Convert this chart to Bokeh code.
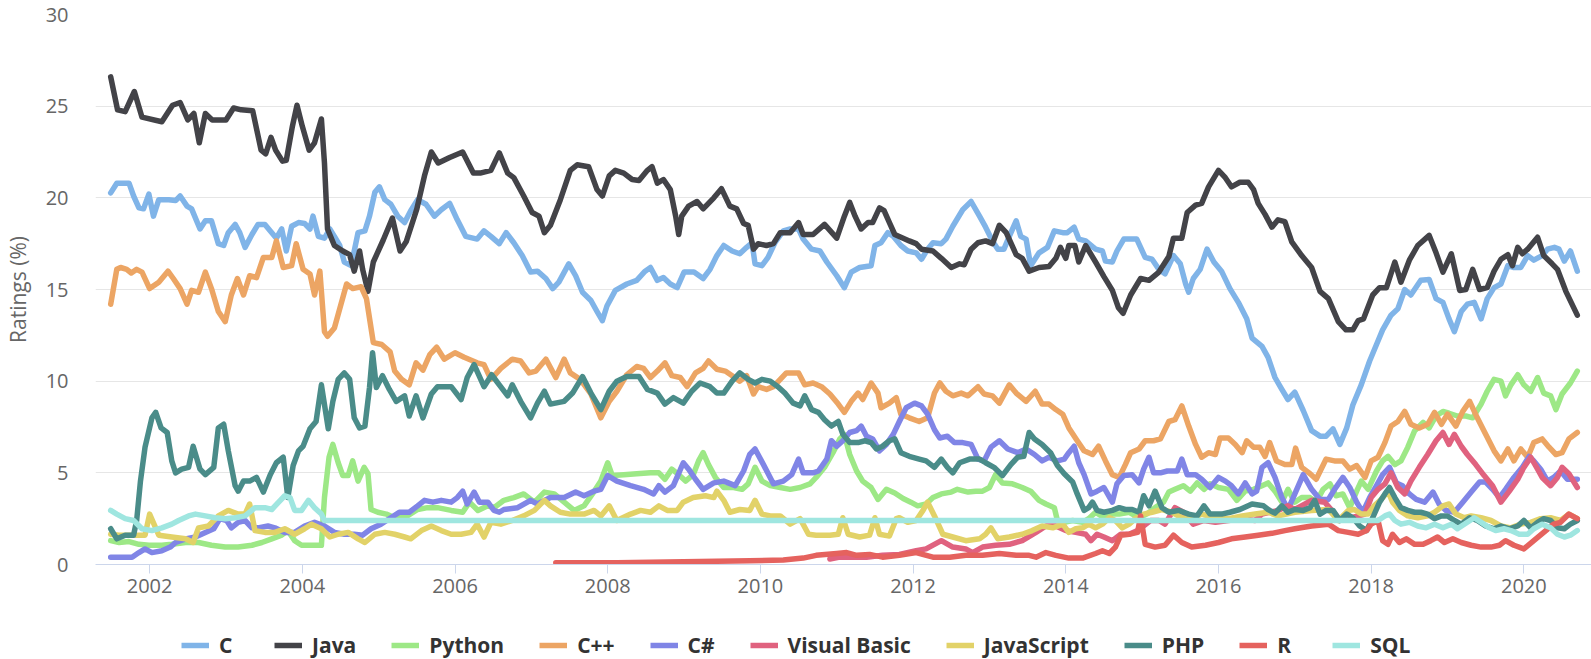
from bokeh.plotting import figure
from bokeh.models import Range1d, FixedTicker, Legend, LegendItem
from bokeh.layouts import column
from bokeh.embed import file_html
from bokeh.resources import INLINE

SERIES_NAMES = ["C", "Java", "Python", "C++", "C#", "Visual Basic", "JavaScript", "PHP", "R", "SQL"]
SERIES_COLORS = ["#80b4e8", "#434348", "#9de886", "#eca564", "#8085e6",
                 "#e0627f", "#e2d268", "#4a8c89", "#e5625e", "#9fe6e0"]

X_TICKS = [2002, 2004, 2006, 2008, 2010, 2012, 2014, 2016, 2018, 2020]
Y_TICKS = [0, 5, 10, 15, 20, 25, 30]

# (year, rating %) pairs
C_DATA = [
    (2001.49, 20.27), (2001.57, 20.8), (2001.73, 20.8), (2001.79, 20.1), (2001.86, 19.45), (2001.92, 19.4),
    (2001.99, 20.2), (2002.05, 19.0), (2002.12, 19.9), (2002.25, 19.9), (2002.34, 19.85), (2002.4, 20.1),
    (2002.49, 19.55), (2002.55, 19.4), (2002.66, 18.3), (2002.73, 18.75), (2002.81, 18.75), (2002.9, 17.5),
    (2002.97, 17.4), (2003.03, 18.1), (2003.12, 18.55), (2003.18, 18.1), (2003.25, 17.3), (2003.34, 18.0),
    (2003.42, 18.55), (2003.51, 18.55), (2003.6, 18.1), (2003.66, 17.8), (2003.73, 18.3), (2003.79, 17.1),
    (2003.86, 18.45), (2003.95, 18.65), (2004.03, 18.6), (2004.1, 18.3), (2004.14, 19.0), (2004.21, 17.9),
    (2004.29, 17.8), (2004.36, 18.3), (2004.42, 17.9), (2004.49, 17.4), (2004.55, 16.5), (2004.64, 16.3),
    (2004.73, 18.1), (2004.82, 18.2), (2004.88, 19.0), (2004.95, 20.3), (2005.01, 20.6), (2005.08, 19.9),
    (2005.16, 19.65), (2005.25, 19.0), (2005.34, 18.65), (2005.42, 19.3), (2005.51, 19.9), (2005.62, 19.65),
    (2005.73, 19.0), (2005.82, 19.35), (2005.93, 19.7), (2006.03, 18.8), (2006.14, 17.9), (2006.29, 17.75),
    (2006.38, 18.2), (2006.47, 17.9), (2006.58, 17.5), (2006.67, 18.1), (2006.77, 17.55), (2006.88, 16.85),
    (2006.99, 15.95), (2007.08, 16.0), (2007.19, 15.6), (2007.28, 15.05), (2007.36, 15.4), (2007.49, 16.4),
    (2007.58, 15.75), (2007.67, 14.85), (2007.78, 14.4), (2007.86, 13.8), (2007.93, 13.3), (2007.99, 14.1),
    (2008.1, 14.95), (2008.25, 15.3), (2008.38, 15.5), (2008.49, 16.0), (2008.56, 16.2), (2008.65, 15.5),
    (2008.73, 15.65), (2008.82, 15.3), (2008.91, 15.1), (2009.0, 15.95), (2009.13, 15.95), (2009.25, 15.6),
    (2009.34, 16.1), (2009.43, 16.85), (2009.52, 17.4), (2009.63, 17.1), (2009.73, 16.95), (2009.82, 17.3),
    (2009.89, 17.55), (2009.93, 16.4), (2010.02, 16.3), (2010.1, 16.75), (2010.19, 17.55), (2010.3, 18.2),
    (2010.39, 18.3), (2010.5, 18.3), (2010.56, 17.75), (2010.67, 17.2), (2010.78, 17.1), (2010.87, 16.5),
    (2011.0, 15.75), (2011.1, 15.1), (2011.19, 15.95), (2011.3, 16.2), (2011.45, 16.3), (2011.5, 17.4),
    (2011.58, 17.55), (2011.67, 18.1), (2011.74, 17.9), (2011.84, 17.4), (2011.93, 17.1), (2012.04, 17.0),
    (2012.11, 16.65), (2012.19, 17.2), (2012.26, 17.55), (2012.37, 17.5), (2012.43, 17.75), (2012.52, 18.45),
    (2012.65, 19.35), (2012.76, 19.8), (2012.87, 19.0), (2012.95, 18.4), (2013.04, 17.65), (2013.11, 17.2),
    (2013.19, 17.2), (2013.26, 17.9), (2013.35, 18.75), (2013.41, 17.9), (2013.48, 17.75), (2013.54, 16.3),
    (2013.65, 17.0), (2013.76, 17.3), (2013.85, 18.2), (2013.96, 18.1), (2014.02, 18.1), (2014.11, 18.4),
    (2014.17, 17.75), (2014.26, 17.65), (2014.39, 17.2), (2014.48, 17.1), (2014.52, 16.55), (2014.61, 16.5),
    (2014.67, 17.1), (2014.76, 17.75), (2014.85, 17.75), (2014.93, 17.75), (2015.04, 16.75), (2015.13, 16.65),
    (2015.22, 16.1), (2015.3, 15.85), (2015.41, 16.85), (2015.5, 16.4), (2015.57, 15.3), (2015.61, 14.85),
    (2015.67, 15.6), (2015.76, 16.1), (2015.85, 17.2), (2015.94, 16.5), (2016.04, 16.0), (2016.15, 15.05),
    (2016.26, 14.3), (2016.37, 13.4), (2016.44, 12.35), (2016.57, 11.9), (2016.65, 11.3), (2016.74, 10.2),
    (2016.83, 9.55), (2016.91, 9.0), (2017.0, 9.4), (2017.11, 8.4), (2017.22, 7.3), (2017.33, 7.0),
    (2017.41, 7.0), (2017.5, 7.4), (2017.59, 6.55), (2017.68, 7.45), (2017.76, 8.7), (2017.87, 9.8),
    (2017.98, 11.1), (2018.07, 12.0), (2018.15, 12.8), (2018.26, 13.6), (2018.35, 13.95), (2018.44, 15.0),
    (2018.52, 14.7), (2018.65, 15.5), (2018.76, 15.55), (2018.85, 14.5), (2018.94, 14.3), (2019.02, 13.4),
    (2019.09, 12.7), (2019.18, 13.8), (2019.26, 14.2), (2019.35, 14.3), (2019.44, 13.4), (2019.52, 14.5),
    (2019.61, 15.1), (2019.7, 15.3), (2019.79, 16.3), (2019.87, 16.2), (2019.96, 16.2), (2020.05, 16.85),
    (2020.13, 16.6), (2020.24, 16.85), (2020.31, 17.2), (2020.4, 17.3), (2020.46, 17.2), (2020.53, 16.55),
    (2020.61, 17.1), (2020.7, 16.0),
]

JAVA_DATA = [
    (2001.49, 26.6), (2001.58, 24.8), (2001.68, 24.7), (2001.8, 25.8), (2001.9, 24.4), (2002.16, 24.15),
    (2002.3, 25.05), (2002.4, 25.2), (2002.5, 24.25), (2002.58, 24.6), (2002.65, 23.0), (2002.73, 24.6),
    (2002.82, 24.25), (2003.0, 24.25), (2003.1, 24.9), (2003.2, 24.8), (2003.35, 24.75), (2003.46, 22.6),
    (2003.52, 22.4), (2003.59, 23.3), (2003.65, 22.6), (2003.74, 22.0), (2003.79, 22.05), (2003.87, 23.9),
    (2003.93, 25.05), (2004.0, 23.9), (2004.09, 22.6), (2004.16, 23.0), (2004.25, 24.3), (2004.29, 21.9),
    (2004.33, 18.3), (2004.42, 17.4), (2004.53, 17.1), (2004.62, 16.9), (2004.68, 16.0), (2004.75, 17.1),
    (2004.79, 16.1), (2004.86, 14.9), (2004.93, 16.5), (2005.06, 17.7), (2005.18, 18.9), (2005.28, 17.1),
    (2005.36, 17.6), (2005.5, 19.4), (2005.6, 21.2), (2005.69, 22.5), (2005.78, 21.9), (2005.93, 22.2),
    (2006.1, 22.5), (2006.24, 21.35), (2006.33, 21.35), (2006.47, 21.5), (2006.58, 22.45), (2006.69, 21.35),
    (2006.77, 21.1), (2006.9, 20.1), (2007.01, 19.2), (2007.1, 19.0), (2007.17, 18.1), (2007.25, 18.5),
    (2007.38, 19.9), (2007.51, 21.5), (2007.6, 21.8), (2007.75, 21.7), (2007.86, 20.45), (2007.93, 20.1),
    (2008.02, 21.2), (2008.1, 21.5), (2008.21, 21.35), (2008.32, 21.0), (2008.41, 20.95), (2008.52, 21.5),
    (2008.58, 21.7), (2008.65, 20.8), (2008.73, 21.0), (2008.82, 20.45), (2008.89, 19.0), (2008.93, 18.0),
    (2008.97, 19.0), (2009.06, 19.55), (2009.17, 19.8), (2009.25, 19.4), (2009.39, 20.0), (2009.49, 20.5),
    (2009.6, 19.55), (2009.69, 19.4), (2009.78, 18.6), (2009.84, 18.5), (2009.91, 17.2), (2009.97, 17.5),
    (2010.08, 17.4), (2010.17, 17.5), (2010.26, 18.1), (2010.39, 18.1), (2010.5, 18.65), (2010.56, 18.0),
    (2010.69, 18.0), (2010.84, 18.55), (2011.0, 17.8), (2011.1, 19.0), (2011.17, 19.75), (2011.24, 19.0),
    (2011.32, 18.3), (2011.41, 18.65), (2011.47, 18.65), (2011.56, 19.45), (2011.62, 19.3), (2011.69, 18.65),
    (2011.76, 18.0), (2011.87, 17.8), (2011.95, 17.65), (2012.04, 17.5), (2012.11, 17.2), (2012.26, 17.1),
    (2012.37, 16.7), (2012.5, 16.2), (2012.61, 16.4), (2012.67, 16.35), (2012.76, 17.2), (2012.85, 17.55),
    (2012.95, 17.65), (2013.04, 17.5), (2013.13, 18.5), (2013.22, 18.1), (2013.35, 16.9), (2013.43, 16.7),
    (2013.52, 16.0), (2013.65, 16.2), (2013.78, 16.25), (2013.87, 16.7), (2013.93, 17.3), (2014.0, 16.7),
    (2014.04, 17.4), (2014.12, 17.4), (2014.17, 16.5), (2014.26, 17.4), (2014.39, 16.5), (2014.5, 15.7),
    (2014.61, 14.95), (2014.69, 14.0), (2014.75, 13.7), (2014.85, 14.7), (2014.98, 15.6), (2015.09, 15.5),
    (2015.22, 15.95), (2015.35, 16.8), (2015.41, 17.8), (2015.52, 17.8), (2015.59, 19.2), (2015.7, 19.6),
    (2015.78, 19.7), (2015.87, 20.6), (2016.0, 21.5), (2016.09, 21.1), (2016.17, 20.6), (2016.28, 20.85),
    (2016.39, 20.85), (2016.46, 20.45), (2016.52, 19.7), (2016.61, 19.1), (2016.7, 18.4), (2016.78, 18.8),
    (2016.87, 18.7), (2016.96, 17.6), (2017.09, 16.85), (2017.22, 16.2), (2017.33, 14.9), (2017.44, 14.5),
    (2017.57, 13.25), (2017.67, 12.8), (2017.76, 12.8), (2017.83, 13.3), (2017.9, 13.4), (2018.02, 14.7),
    (2018.11, 15.1), (2018.2, 15.1), (2018.31, 16.5), (2018.39, 15.4), (2018.5, 16.6), (2018.61, 17.4),
    (2018.76, 17.95), (2018.85, 17.0), (2018.94, 15.95), (2019.05, 16.95), (2019.16, 14.95), (2019.24, 15.0),
    (2019.33, 16.1), (2019.42, 15.0), (2019.52, 15.1), (2019.61, 16.0), (2019.7, 16.65), (2019.79, 16.9),
    (2019.85, 16.3), (2019.92, 17.3), (2019.98, 16.95), (2020.05, 17.2), (2020.18, 17.85), (2020.26, 16.85),
    (2020.37, 16.4), (2020.44, 16.1), (2020.55, 14.9), (2020.7, 13.6),
]

PYTHON_DATA = [
    (2001.49, 1.3), (2001.6, 1.2), (2001.73, 1.25), (2001.86, 1.1), (2001.99, 1.05), (2002.16, 1.05),
    (2002.29, 1.1), (2002.47, 1.2), (2002.64, 1.2), (2002.81, 1.05), (2002.99, 0.95), (2003.16, 0.95),
    (2003.34, 1.05), (2003.47, 1.2), (2003.6, 1.4), (2003.73, 1.6), (2003.81, 1.85), (2003.9, 1.3),
    (2003.99, 1.05), (2004.12, 1.05), (2004.25, 1.05), (2004.29, 3.65), (2004.35, 5.85), (2004.4, 6.55),
    (2004.47, 5.55), (2004.53, 4.85), (2004.6, 4.85), (2004.66, 5.65), (2004.73, 4.55), (2004.81, 5.3),
    (2004.86, 4.95), (2004.9, 3.0), (2004.99, 2.85), (2005.1, 2.75), (2005.21, 2.55), (2005.34, 2.55),
    (2005.51, 3.0), (2005.64, 3.1), (2005.77, 3.1), (2005.95, 2.95), (2006.1, 2.85), (2006.19, 3.4),
    (2006.3, 2.95), (2006.43, 3.2), (2006.51, 3.1), (2006.64, 3.5), (2006.77, 3.65), (2006.9, 3.85),
    (2007.04, 3.4), (2007.17, 3.95), (2007.3, 3.85), (2007.43, 3.4), (2007.56, 2.95), (2007.69, 3.2),
    (2007.8, 3.85), (2007.91, 4.55), (2008.0, 5.55), (2008.06, 4.85), (2008.21, 4.9), (2008.38, 4.95),
    (2008.56, 5.0), (2008.67, 5.0), (2008.75, 4.65), (2008.84, 5.2), (2008.93, 4.9), (2009.02, 4.55),
    (2009.12, 4.9), (2009.19, 5.65), (2009.25, 6.1), (2009.32, 5.45), (2009.41, 4.75), (2009.52, 4.2),
    (2009.65, 4.2), (2009.76, 4.1), (2009.84, 4.4), (2009.93, 5.3), (2010.02, 4.55), (2010.13, 4.3),
    (2010.26, 4.2), (2010.39, 4.1), (2010.52, 4.2), (2010.65, 4.4), (2010.73, 4.75), (2010.84, 5.3),
    (2010.95, 6.1), (2011.04, 6.85), (2011.1, 7.1), (2011.17, 6.0), (2011.26, 5.1), (2011.34, 4.55),
    (2011.45, 4.2), (2011.54, 3.55), (2011.65, 4.1), (2011.76, 3.9), (2011.87, 3.6), (2011.97, 3.4),
    (2012.06, 3.2), (2012.17, 3.3), (2012.26, 3.65), (2012.37, 3.85), (2012.5, 3.95), (2012.58, 4.1),
    (2012.72, 3.95), (2012.82, 4.0), (2012.91, 4.0), (2013.0, 4.2), (2013.08, 4.9), (2013.17, 4.45),
    (2013.3, 4.4), (2013.43, 4.2), (2013.54, 4.0), (2013.65, 3.5), (2013.74, 3.3), (2013.85, 3.1),
    (2013.89, 2.4), (2013.98, 2.3), (2014.09, 2.4), (2014.22, 2.3), (2014.3, 2.5), (2014.39, 2.85),
    (2014.5, 2.55), (2014.61, 2.75), (2014.7, 2.75), (2014.83, 2.85), (2014.96, 2.55), (2015.06, 2.75),
    (2015.17, 3.1), (2015.28, 3.4), (2015.35, 3.95), (2015.43, 4.1), (2015.54, 4.3), (2015.63, 4.0),
    (2015.72, 4.45), (2015.81, 4.1), (2015.89, 4.4), (2016.0, 4.2), (2016.13, 4.1), (2016.24, 3.5),
    (2016.35, 4.0), (2016.46, 4.1), (2016.57, 4.3), (2016.65, 4.45), (2016.74, 4.0), (2016.83, 3.4),
    (2016.91, 4.1), (2017.0, 3.4), (2017.09, 3.65), (2017.2, 3.65), (2017.28, 3.4), (2017.37, 4.1),
    (2017.46, 4.4), (2017.54, 3.75), (2017.63, 3.85), (2017.72, 3.1), (2017.81, 4.0), (2017.87, 4.55),
    (2017.96, 4.1), (2018.07, 5.1), (2018.15, 5.65), (2018.22, 5.9), (2018.31, 5.45), (2018.39, 5.65),
    (2018.48, 6.4), (2018.57, 7.3), (2018.68, 7.75), (2018.76, 7.45), (2018.85, 8.1), (2018.94, 8.35),
    (2019.02, 8.25), (2019.13, 8.1), (2019.24, 8.1), (2019.33, 8.0), (2019.44, 8.75), (2019.52, 9.45),
    (2019.61, 10.1), (2019.7, 10.0), (2019.76, 9.2), (2019.83, 9.8), (2019.92, 10.35), (2020.0, 9.8),
    (2020.09, 9.45), (2020.18, 10.2), (2020.26, 9.35), (2020.35, 9.2), (2020.42, 8.45), (2020.5, 9.3),
    (2020.61, 9.9), (2020.7, 10.55),
]

CPP_DATA = [
    (2001.49, 14.2), (2001.57, 16.1), (2001.62, 16.2), (2001.7, 16.1), (2001.76, 15.9), (2001.83, 16.1),
    (2001.9, 15.95), (2002.0, 15.05), (2002.12, 15.4), (2002.24, 16.0), (2002.31, 15.6), (2002.4, 15.05),
    (2002.49, 14.2), (2002.55, 14.95), (2002.64, 14.85), (2002.73, 15.95), (2002.81, 15.05), (2002.9, 13.8),
    (2002.99, 13.25), (2003.07, 14.7), (2003.15, 15.6), (2003.23, 14.7), (2003.31, 15.75), (2003.4, 15.65),
    (2003.49, 16.75), (2003.6, 16.75), (2003.66, 17.65), (2003.75, 16.2), (2003.86, 16.3), (2003.92, 17.5),
    (2004.01, 16.1), (2004.1, 15.85), (2004.16, 14.7), (2004.23, 16.0), (2004.29, 12.7), (2004.33, 12.45),
    (2004.42, 12.9), (2004.58, 15.3), (2004.66, 15.05), (2004.77, 15.15), (2004.84, 14.5), (2004.9, 12.9),
    (2004.93, 12.1), (2005.04, 12.0), (2005.15, 11.6), (2005.21, 10.55), (2005.3, 10.1), (2005.4, 9.8),
    (2005.49, 11.0), (2005.58, 10.6), (2005.67, 11.45), (2005.76, 11.85), (2005.86, 11.2), (2006.0, 11.55),
    (2006.12, 11.3), (2006.29, 11.0), (2006.38, 10.9), (2006.47, 10.1), (2006.6, 10.7), (2006.75, 11.2),
    (2006.86, 11.1), (2006.97, 10.45), (2007.06, 10.55), (2007.19, 11.2), (2007.32, 10.2), (2007.43, 11.2),
    (2007.51, 10.45), (2007.64, 10.1), (2007.78, 9.3), (2007.91, 8.0), (2008.02, 8.9), (2008.12, 9.45),
    (2008.25, 10.35), (2008.38, 10.8), (2008.47, 10.7), (2008.56, 10.2), (2008.65, 10.55), (2008.75, 11.0),
    (2008.84, 10.3), (2008.95, 10.2), (2009.04, 9.7), (2009.15, 10.45), (2009.25, 10.7), (2009.32, 11.1),
    (2009.43, 10.65), (2009.54, 10.55), (2009.63, 10.3), (2009.73, 10.0), (2009.82, 10.3), (2009.91, 9.3),
    (2009.97, 9.7), (2010.08, 9.55), (2010.17, 9.7), (2010.26, 10.1), (2010.34, 10.45), (2010.5, 10.45),
    (2010.58, 9.8), (2010.69, 9.9), (2010.8, 9.7), (2010.91, 9.3), (2011.02, 8.75), (2011.1, 8.3),
    (2011.19, 8.9), (2011.28, 9.35), (2011.34, 9.0), (2011.45, 9.9), (2011.54, 9.35), (2011.58, 8.55),
    (2011.69, 8.8), (2011.78, 9.1), (2011.84, 8.2), (2011.95, 8.0), (2012.08, 7.8), (2012.19, 8.0),
    (2012.28, 9.35), (2012.35, 9.9), (2012.43, 9.45), (2012.52, 9.2), (2012.63, 9.35), (2012.72, 9.2),
    (2012.85, 9.7), (2012.93, 9.3), (2013.04, 9.2), (2013.13, 8.8), (2013.26, 9.8), (2013.35, 9.35),
    (2013.48, 8.9), (2013.6, 9.45), (2013.69, 8.75), (2013.78, 8.75), (2013.87, 8.45), (2013.96, 8.2),
    (2014.04, 7.45), (2014.15, 6.75), (2014.24, 6.2), (2014.35, 6.0), (2014.43, 6.45), (2014.52, 5.65),
    (2014.61, 4.9), (2014.7, 4.75), (2014.78, 5.45), (2014.85, 6.1), (2014.96, 6.3), (2015.04, 6.75),
    (2015.15, 6.75), (2015.24, 6.85), (2015.35, 7.8), (2015.43, 7.9), (2015.52, 8.65), (2015.61, 7.55),
    (2015.7, 6.55), (2015.78, 5.85), (2015.87, 6.1), (2015.96, 6.0), (2016.02, 6.9), (2016.13, 6.9),
    (2016.22, 6.55), (2016.31, 6.1), (2016.37, 6.75), (2016.46, 6.4), (2016.54, 6.4), (2016.61, 5.9),
    (2016.67, 6.65), (2016.76, 5.65), (2016.87, 5.45), (2016.96, 5.45), (2017.01, 6.35), (2017.09, 5.3),
    (2017.2, 4.95), (2017.28, 4.65), (2017.41, 5.75), (2017.52, 5.65), (2017.63, 5.65), (2017.72, 5.2),
    (2017.81, 5.4), (2017.92, 4.75), (2018.0, 5.65), (2018.09, 5.85), (2018.18, 6.65), (2018.26, 7.55),
    (2018.35, 7.8), (2018.44, 8.35), (2018.52, 7.65), (2018.63, 7.45), (2018.74, 7.65), (2018.83, 8.3),
    (2018.92, 7.65), (2019.0, 8.2), (2019.11, 7.55), (2019.2, 8.35), (2019.29, 8.9), (2019.39, 8.0),
    (2019.5, 7.1), (2019.61, 6.2), (2019.7, 5.65), (2019.79, 6.3), (2019.87, 5.65), (2019.96, 6.3),
    (2020.05, 5.85), (2020.13, 6.65), (2020.24, 6.85), (2020.33, 6.4), (2020.42, 6.0), (2020.5, 6.1),
    (2020.59, 6.85), (2020.7, 7.2),
]

CSHARP_DATA = [
    (2001.49, 0.4), (2001.6, 0.4), (2001.77, 0.4), (2001.86, 0.65), (2001.94, 0.85), (2002.03, 0.65),
    (2002.16, 0.75), (2002.27, 0.95), (2002.34, 1.2), (2002.47, 1.4), (2002.6, 1.5), (2002.73, 1.75),
    (2002.84, 1.95), (2002.92, 2.5), (2003.01, 2.4), (2003.07, 2.0), (2003.16, 2.3), (2003.25, 2.4),
    (2003.34, 2.0), (2003.42, 2.0), (2003.55, 2.1), (2003.64, 2.0), (2003.77, 1.75), (2003.9, 1.75),
    (2004.03, 2.1), (2004.16, 2.3), (2004.29, 2.1), (2004.42, 1.75), (2004.55, 1.65), (2004.68, 1.65),
    (2004.79, 1.6), (2004.9, 1.95), (2005.03, 2.2), (2005.16, 2.55), (2005.27, 2.85), (2005.4, 2.85),
    (2005.51, 3.2), (2005.6, 3.5), (2005.71, 3.4), (2005.82, 3.5), (2005.95, 3.4), (2006.03, 3.65),
    (2006.1, 4.0), (2006.16, 3.3), (2006.25, 3.95), (2006.32, 3.4), (2006.43, 3.4), (2006.51, 2.95),
    (2006.58, 2.85), (2006.64, 3.0), (2006.82, 3.1), (2006.99, 3.5), (2007.08, 3.3), (2007.25, 3.65),
    (2007.43, 3.65), (2007.58, 3.95), (2007.69, 3.75), (2007.82, 4.0), (2007.91, 4.1), (2008.0, 4.85),
    (2008.12, 4.55), (2008.3, 4.3), (2008.47, 4.1), (2008.6, 3.85), (2008.67, 4.3), (2008.75, 3.95),
    (2008.86, 4.3), (2008.99, 5.55), (2009.06, 5.2), (2009.15, 4.65), (2009.25, 4.1), (2009.39, 4.45),
    (2009.52, 4.55), (2009.67, 4.3), (2009.78, 5.1), (2009.86, 6.0), (2009.93, 6.3), (2010.04, 5.45),
    (2010.17, 4.4), (2010.3, 4.55), (2010.41, 4.9), (2010.5, 5.75), (2010.56, 5.0), (2010.69, 5.0),
    (2010.76, 5.1), (2010.87, 5.75), (2010.93, 6.75), (2011.0, 6.45), (2011.08, 6.75), (2011.17, 7.2),
    (2011.26, 7.3), (2011.32, 7.55), (2011.39, 7.0), (2011.47, 6.85), (2011.56, 6.2), (2011.65, 6.55),
    (2011.74, 7.1), (2011.82, 7.8), (2011.91, 8.55), (2012.02, 8.8), (2012.11, 8.65), (2012.19, 8.2),
    (2012.28, 7.35), (2012.35, 6.9), (2012.45, 7.0), (2012.54, 6.65), (2012.65, 6.65), (2012.76, 6.55),
    (2012.85, 5.75), (2012.93, 5.65), (2013.02, 6.4), (2013.13, 6.75), (2013.24, 6.3), (2013.37, 6.1),
    (2013.48, 6.3), (2013.59, 6.0), (2013.69, 5.65), (2013.78, 5.85), (2013.89, 5.65), (2013.98, 5.75),
    (2014.04, 6.1), (2014.11, 6.45), (2014.17, 5.55), (2014.24, 4.9), (2014.33, 3.85), (2014.41, 4.0),
    (2014.5, 4.2), (2014.61, 3.4), (2014.67, 4.4), (2014.76, 4.85), (2014.87, 4.9), (2014.96, 4.45),
    (2015.02, 5.2), (2015.09, 5.85), (2015.15, 5.0), (2015.24, 5.0), (2015.33, 5.1), (2015.46, 5.1),
    (2015.52, 5.75), (2015.59, 4.9), (2015.7, 4.9), (2015.78, 4.65), (2015.89, 4.2), (2016.0, 4.75),
    (2016.09, 4.55), (2016.17, 4.3), (2016.26, 3.85), (2016.35, 4.45), (2016.44, 3.85), (2016.5, 4.0),
    (2016.57, 5.3), (2016.65, 5.55), (2016.74, 4.75), (2016.83, 3.65), (2016.91, 3.0), (2017.0, 3.85),
    (2017.11, 4.9), (2017.22, 4.1), (2017.33, 3.55), (2017.44, 3.55), (2017.52, 4.1), (2017.63, 4.75),
    (2017.72, 4.2), (2017.81, 3.4), (2017.89, 2.85), (2017.98, 3.65), (2018.07, 4.3), (2018.15, 4.9),
    (2018.24, 5.3), (2018.33, 4.45), (2018.41, 4.3), (2018.5, 3.85), (2018.59, 3.55), (2018.7, 3.4),
    (2018.81, 3.95), (2018.89, 3.3), (2018.98, 2.95), (2019.09, 2.85), (2019.2, 3.4), (2019.31, 3.95),
    (2019.42, 4.5), (2019.5, 4.5), (2019.59, 4.1), (2019.68, 3.65), (2019.76, 4.1), (2019.87, 4.75),
    (2019.98, 5.3), (2020.07, 5.9), (2020.13, 5.65), (2020.22, 5.2), (2020.31, 4.55), (2020.39, 4.75),
    (2020.48, 5.1), (2020.57, 4.65), (2020.7, 4.65),
]

VB_DATA = [
    (2010.91, 0.3), (2011.04, 0.4), (2011.39, 0.4), (2011.6, 0.5), (2011.82, 0.55), (2012.04, 0.75),
    (2012.17, 0.85), (2012.37, 1.3), (2012.52, 0.95), (2012.69, 0.85), (2012.78, 0.65), (2012.91, 0.95),
    (2013.08, 1.05), (2013.26, 1.1), (2013.43, 1.3), (2013.61, 1.75), (2013.74, 2.1), (2013.87, 2.1),
    (2014.0, 1.85), (2014.13, 1.75), (2014.26, 1.65), (2014.33, 1.3), (2014.41, 1.65), (2014.5, 1.5),
    (2014.61, 1.3), (2014.72, 1.65), (2014.83, 1.65), (2014.94, 1.85), (2015.11, 2.4), (2015.22, 2.4),
    (2015.3, 2.2), (2015.43, 3.1), (2015.54, 2.85), (2015.67, 2.2), (2015.81, 2.4), (2015.96, 2.3),
    (2016.13, 2.4), (2016.31, 2.5), (2016.48, 2.4), (2016.57, 2.75), (2016.78, 2.95), (2016.91, 3.2),
    (2017.0, 3.0), (2017.22, 3.5), (2017.39, 3.4), (2017.57, 2.55), (2017.74, 2.55), (2017.92, 2.75),
    (2018.0, 3.65), (2018.09, 4.1), (2018.18, 4.4), (2018.26, 5.0), (2018.35, 4.2), (2018.44, 3.85),
    (2018.52, 4.55), (2018.63, 5.3), (2018.74, 6.0), (2018.85, 6.75), (2018.94, 7.2), (2019.02, 6.55),
    (2019.09, 7.1), (2019.18, 6.45), (2019.26, 6.0), (2019.37, 5.45), (2019.48, 4.85), (2019.59, 4.3),
    (2019.7, 3.4), (2019.81, 4.0), (2019.92, 4.65), (2020.0, 5.3), (2020.09, 5.85), (2020.18, 5.2),
    (2020.24, 4.75), (2020.35, 4.3), (2020.44, 4.75), (2020.5, 5.3), (2020.59, 4.95), (2020.7, 4.2),
]

JS_DATA = [
    (2001.49, 1.65), (2001.6, 1.6), (2001.77, 1.6), (2001.94, 1.6), (2002.0, 2.75), (2002.12, 1.6),
    (2002.29, 1.5), (2002.47, 1.4), (2002.57, 1.2), (2002.64, 2.0), (2002.77, 2.1), (2002.9, 2.65),
    (2003.03, 2.95), (2003.16, 2.75), (2003.25, 2.75), (2003.31, 3.3), (2003.38, 1.85), (2003.51, 1.75),
    (2003.64, 1.75), (2003.77, 1.95), (2003.9, 1.65), (2004.03, 1.95), (2004.12, 2.2), (2004.25, 1.95),
    (2004.36, 1.5), (2004.47, 1.65), (2004.6, 1.75), (2004.73, 1.4), (2004.82, 1.2), (2004.95, 1.65),
    (2005.08, 1.75), (2005.21, 1.65), (2005.34, 1.5), (2005.42, 1.4), (2005.56, 1.85), (2005.69, 2.1),
    (2005.82, 1.85), (2005.95, 1.65), (2006.08, 1.65), (2006.21, 1.75), (2006.29, 2.2), (2006.38, 1.5),
    (2006.47, 2.3), (2006.6, 2.2), (2006.75, 2.4), (2006.9, 2.65), (2007.04, 2.95), (2007.17, 3.5),
    (2007.25, 3.2), (2007.38, 2.85), (2007.51, 2.75), (2007.69, 2.75), (2007.82, 2.95), (2007.91, 2.65),
    (2008.02, 3.2), (2008.12, 2.4), (2008.3, 2.75), (2008.43, 2.95), (2008.56, 2.85), (2008.67, 3.2),
    (2008.78, 2.95), (2008.91, 2.95), (2008.99, 3.4), (2009.12, 3.65), (2009.28, 3.75), (2009.39, 3.65),
    (2009.43, 4.0), (2009.52, 3.5), (2009.6, 2.85), (2009.73, 3.0), (2009.86, 2.95), (2009.93, 3.5),
    (2010.02, 2.75), (2010.13, 2.65), (2010.26, 2.65), (2010.39, 2.2), (2010.52, 2.5), (2010.63, 1.65),
    (2010.73, 1.6), (2010.91, 1.6), (2011.02, 1.65), (2011.08, 2.55), (2011.15, 1.65), (2011.3, 1.5),
    (2011.43, 1.6), (2011.5, 2.55), (2011.56, 1.65), (2011.69, 1.55), (2011.78, 2.5), (2011.82, 2.55),
    (2011.93, 2.3), (2012.04, 2.4), (2012.13, 2.95), (2012.19, 3.4), (2012.28, 2.65), (2012.39, 1.65),
    (2012.52, 1.5), (2012.69, 1.3), (2012.87, 1.4), (2012.95, 1.65), (2013.02, 2.0), (2013.11, 1.4),
    (2013.26, 1.5), (2013.43, 1.65), (2013.56, 1.85), (2013.69, 2.1), (2013.83, 2.0), (2013.96, 2.2),
    (2014.04, 1.75), (2014.13, 1.95), (2014.22, 2.0), (2014.3, 2.2), (2014.39, 2.0), (2014.48, 2.2),
    (2014.57, 2.55), (2014.65, 2.4), (2014.74, 2.0), (2014.83, 2.2), (2014.91, 2.5), (2015.02, 2.75),
    (2015.13, 2.85), (2015.26, 3.0), (2015.39, 2.85), (2015.52, 2.55), (2015.65, 2.5), (2015.78, 2.75),
    (2015.96, 2.55), (2016.13, 2.5), (2016.31, 2.65), (2016.48, 2.75), (2016.65, 2.85), (2016.78, 2.65),
    (2017.0, 2.85), (2017.22, 2.95), (2017.44, 3.0), (2017.57, 2.4), (2017.7, 2.95), (2017.78, 3.0),
    (2017.87, 2.75), (2017.96, 2.75), (2018.04, 3.2), (2018.13, 3.55), (2018.22, 4.0), (2018.28, 3.4),
    (2018.37, 2.95), (2018.48, 2.65), (2018.61, 2.55), (2018.74, 2.65), (2018.83, 2.85), (2018.94, 3.2),
    (2019.02, 3.3), (2019.11, 2.75), (2019.22, 2.55), (2019.31, 2.65), (2019.44, 2.55), (2019.57, 2.4),
    (2019.7, 2.1), (2019.83, 2.0), (2019.96, 2.2), (2020.09, 2.3), (2020.22, 2.5), (2020.35, 2.55),
    (2020.48, 2.4), (2020.59, 2.75), (2020.7, 2.5),
]

PHP_DATA = [
    (2001.49, 1.95), (2001.57, 1.4), (2001.68, 1.6), (2001.79, 1.6), (2001.83, 2.4), (2001.88, 4.55),
    (2001.94, 6.4), (2002.03, 8.0), (2002.08, 8.3), (2002.15, 7.45), (2002.23, 7.2), (2002.29, 5.65),
    (2002.34, 5.0), (2002.42, 5.2), (2002.51, 5.3), (2002.57, 6.45), (2002.66, 5.2), (2002.73, 4.9),
    (2002.84, 5.3), (2002.9, 7.45), (2002.97, 7.65), (2003.03, 6.2), (2003.12, 4.3), (2003.16, 4.0),
    (2003.23, 4.55), (2003.31, 4.55), (2003.4, 4.75), (2003.49, 3.95), (2003.58, 4.9), (2003.66, 5.55),
    (2003.75, 5.85), (2003.81, 3.65), (2003.88, 5.4), (2003.95, 6.2), (2004.01, 6.45), (2004.1, 7.4),
    (2004.18, 7.8), (2004.25, 9.8), (2004.34, 7.4), (2004.4, 8.9), (2004.47, 10.1), (2004.55, 10.45),
    (2004.62, 10.1), (2004.68, 8.0), (2004.75, 7.45), (2004.82, 7.55), (2004.88, 9.65), (2004.92, 11.55),
    (2004.97, 9.65), (2005.05, 10.3), (2005.14, 9.55), (2005.23, 8.9), (2005.34, 9.2), (2005.4, 8.1),
    (2005.49, 9.2), (2005.58, 8.0), (2005.69, 9.3), (2005.77, 9.7), (2005.95, 9.7), (2006.08, 9.0),
    (2006.16, 10.2), (2006.25, 10.9), (2006.38, 9.7), (2006.48, 10.35), (2006.58, 9.8), (2006.69, 9.2),
    (2006.75, 9.8), (2006.86, 8.9), (2006.99, 8.0), (2007.08, 8.8), (2007.17, 9.45), (2007.25, 8.75),
    (2007.43, 8.9), (2007.54, 9.35), (2007.67, 10.25), (2007.78, 9.35), (2007.91, 8.45), (2008.02, 9.45),
    (2008.12, 10.0), (2008.25, 10.25), (2008.41, 10.25), (2008.52, 9.55), (2008.65, 9.35), (2008.75, 8.75),
    (2008.86, 9.1), (2008.99, 8.8), (2009.1, 9.45), (2009.21, 9.9), (2009.34, 9.7), (2009.43, 9.35),
    (2009.52, 9.35), (2009.63, 10.0), (2009.73, 10.45), (2009.84, 10.1), (2009.93, 9.9), (2010.02, 10.1),
    (2010.13, 10.0), (2010.23, 9.7), (2010.32, 9.35), (2010.43, 8.8), (2010.52, 8.65), (2010.58, 9.2),
    (2010.67, 8.45), (2010.76, 8.3), (2010.84, 7.9), (2010.93, 7.55), (2011.02, 7.8), (2011.08, 7.1),
    (2011.17, 6.65), (2011.28, 6.65), (2011.37, 6.75), (2011.45, 6.65), (2011.52, 6.3), (2011.6, 6.45),
    (2011.69, 6.75), (2011.76, 6.85), (2011.84, 6.1), (2011.95, 5.9), (2012.08, 5.75), (2012.17, 5.65),
    (2012.28, 5.3), (2012.37, 5.75), (2012.45, 5.3), (2012.52, 5.0), (2012.61, 5.55), (2012.74, 5.75),
    (2012.87, 5.75), (2012.95, 5.55), (2013.06, 5.3), (2013.17, 4.85), (2013.28, 5.45), (2013.37, 5.85),
    (2013.45, 5.9), (2013.52, 7.2), (2013.59, 6.85), (2013.69, 6.55), (2013.8, 6.1), (2013.89, 5.4),
    (2013.98, 4.95), (2014.09, 4.5), (2014.15, 3.85), (2014.24, 2.95), (2014.3, 3.1), (2014.35, 3.4),
    (2014.41, 2.95), (2014.5, 2.85), (2014.61, 2.95), (2014.7, 3.1), (2014.78, 3.0), (2014.87, 3.0),
    (2014.96, 2.85), (2015.02, 3.75), (2015.09, 3.2), (2015.17, 4.0), (2015.26, 3.1), (2015.35, 2.85),
    (2015.48, 2.95), (2015.61, 2.75), (2015.72, 2.65), (2015.81, 3.2), (2015.89, 2.75), (2016.04, 2.75),
    (2016.15, 2.85), (2016.28, 3.0), (2016.44, 3.3), (2016.59, 3.2), (2016.65, 3.0), (2016.74, 2.8),
    (2016.83, 3.2), (2016.91, 2.85), (2017.0, 3.0), (2017.11, 2.95), (2017.2, 3.1), (2017.26, 3.5),
    (2017.33, 2.75), (2017.41, 2.95), (2017.5, 2.95), (2017.59, 2.4), (2017.68, 2.75), (2017.76, 2.55),
    (2017.85, 2.1), (2017.94, 1.85), (2018.02, 2.55), (2018.11, 3.4), (2018.18, 3.85), (2018.24, 4.2),
    (2018.31, 3.65), (2018.39, 3.1), (2018.48, 2.95), (2018.57, 2.85), (2018.65, 2.85), (2018.74, 2.75),
    (2018.83, 2.5), (2018.92, 2.65), (2019.0, 2.65), (2019.09, 2.4), (2019.18, 2.2), (2019.29, 2.55),
    (2019.39, 2.4), (2019.5, 2.1), (2019.61, 1.95), (2019.7, 2.1), (2019.81, 1.95), (2019.92, 2.1),
    (2020.0, 2.4), (2020.09, 2.0), (2020.18, 2.3), (2020.26, 2.5), (2020.35, 2.4), (2020.44, 2.0),
    (2020.53, 1.95), (2020.61, 2.2), (2020.7, 2.4),
]

R_DATA = [
    (2007.32, 0.1), (2008.12, 0.1), (2008.99, 0.15), (2009.86, 0.2), (2010.3, 0.25), (2010.56, 0.35),
    (2010.73, 0.5), (2011.0, 0.6), (2011.13, 0.65), (2011.26, 0.5), (2011.43, 0.55), (2011.6, 0.4),
    (2011.82, 0.5), (2012.04, 0.65), (2012.26, 0.4), (2012.48, 0.4), (2012.69, 0.5), (2012.91, 0.5),
    (2013.13, 0.6), (2013.35, 0.5), (2013.52, 0.5), (2013.61, 0.4), (2013.74, 0.65), (2013.87, 0.5),
    (2014.04, 0.35), (2014.22, 0.35), (2014.39, 0.6), (2014.48, 0.75), (2014.57, 0.6), (2014.65, 0.95),
    (2014.72, 1.6), (2014.83, 1.65), (2014.94, 1.75), (2014.98, 2.65), (2015.04, 1.1), (2015.17, 0.95),
    (2015.3, 1.05), (2015.41, 1.6), (2015.52, 1.2), (2015.65, 0.95), (2015.83, 1.05), (2016.0, 1.2),
    (2016.17, 1.4), (2016.35, 1.5), (2016.52, 1.6), (2016.7, 1.7), (2016.87, 1.85), (2017.0, 1.95),
    (2017.22, 2.1), (2017.44, 2.2), (2017.57, 1.85), (2017.7, 1.75), (2017.83, 1.65), (2017.94, 1.85),
    (2018.0, 2.2), (2018.09, 2.4), (2018.15, 1.3), (2018.22, 1.1), (2018.28, 1.65), (2018.37, 1.2),
    (2018.46, 1.4), (2018.57, 1.1), (2018.68, 1.1), (2018.78, 1.3), (2018.87, 1.5), (2018.96, 1.2),
    (2019.07, 1.4), (2019.18, 1.2), (2019.31, 1.05), (2019.44, 0.95), (2019.57, 0.95), (2019.68, 1.05),
    (2019.76, 1.3), (2019.87, 1.05), (2020.0, 0.85), (2020.13, 1.3), (2020.26, 1.75), (2020.39, 2.2),
    (2020.48, 2.3), (2020.59, 2.75), (2020.7, 2.5),
]

SQL_DATA = [
    (2001.49, 2.95), (2001.57, 2.75), (2001.68, 2.5), (2001.79, 2.4), (2001.9, 1.95), (2002.03, 1.85),
    (2002.16, 2.0), (2002.29, 2.2), (2002.38, 2.4), (2002.51, 2.65), (2002.6, 2.75), (2002.73, 2.65),
    (2002.86, 2.55), (2002.99, 2.5), (2003.12, 2.55), (2003.25, 2.65), (2003.38, 3.1), (2003.51, 3.1),
    (2003.6, 3.0), (2003.69, 3.4), (2003.77, 3.75), (2003.84, 3.65), (2003.9, 2.95), (2003.99, 2.95),
    (2004.08, 3.5), (2004.16, 3.1), (2004.25, 2.75), (2004.29, 2.4), (2018.09, 2.4), (2018.18, 2.65),
    (2018.24, 2.75), (2018.31, 2.4), (2018.39, 2.2), (2018.5, 2.3), (2018.61, 2.1), (2018.72, 2.0),
    (2018.83, 2.2), (2018.94, 2.0), (2019.05, 2.2), (2019.13, 1.95), (2019.22, 2.2), (2019.35, 2.55),
    (2019.44, 2.3), (2019.55, 2.0), (2019.63, 1.85), (2019.74, 1.95), (2019.83, 1.85), (2019.94, 1.65),
    (2020.05, 1.65), (2020.13, 1.95), (2020.24, 2.2), (2020.35, 2.0), (2020.44, 1.65), (2020.53, 1.5),
    (2020.61, 1.6), (2020.7, 1.85),
]

SERIES_DATA = [C_DATA, JAVA_DATA, PYTHON_DATA, CPP_DATA, CSHARP_DATA,
               VB_DATA, JS_DATA, PHP_DATA, R_DATA, SQL_DATA]

FONT = "Open Sans"
LINE_W = 5.5

# ---------------- main chart ----------------
p = figure(width=1591, height=627, output_backend="svg", toolbar_location=None,
           x_range=Range1d(2001.291, 2020.886), y_range=Range1d(0, 30),
           min_border_left=90, min_border_right=0, min_border_top=14, min_border_bottom=63)
p.background_fill_color = "white"
p.border_fill_color = "white"
p.outline_line_color = None

for color, data in zip(SERIES_COLORS, SERIES_DATA):
    xs = [d[0] for d in data]
    ys = [d[1] for d in data]
    p.line(xs, ys, line_color=color, line_width=LINE_W, line_join="round", line_cap="round")

p.xaxis.ticker = FixedTicker(ticks=X_TICKS)
p.xaxis.major_label_overrides = {t: str(t) for t in X_TICKS}
p.xaxis.axis_line_color = "#ccd6eb"
p.xaxis.axis_line_width = 1
p.xaxis.major_tick_line_color = "#ccd6eb"
p.xaxis.major_tick_in = 0
p.xaxis.major_tick_out = 9
p.xaxis.minor_tick_line_color = None
p.xaxis.major_label_text_font = FONT
p.xaxis.major_label_text_font_size = "20px"
p.xaxis.major_label_text_color = "#666666"
p.xaxis.major_label_standoff = 5

p.yaxis.ticker = FixedTicker(ticks=Y_TICKS)
p.yaxis.axis_line_color = None
p.yaxis.major_tick_line_color = None
p.yaxis.minor_tick_line_color = None
p.yaxis.major_tick_in = 0
p.yaxis.major_tick_out = 0
p.yaxis.major_label_standoff = 27
p.yaxis.major_label_text_font = FONT
p.yaxis.major_label_text_font_size = "20px"
p.yaxis.major_label_text_color = "#666666"
p.yaxis.axis_label = "Ratings (%)"
p.yaxis.axis_label_text_font = FONT
p.yaxis.axis_label_text_font_size = "21px"
p.yaxis.axis_label_text_font_style = "normal"
p.yaxis.axis_label_text_color = "#666666"
p.yaxis.axis_label_standoff = 11

p.xgrid.grid_line_color = None
p.ygrid.grid_line_color = "#e6e6e6"
p.ygrid.grid_line_width = 1

# ---------------- legend strip ----------------
leg = figure(width=1591, height=32, output_backend="svg", toolbar_location=None,
             x_range=Range1d(0, 1), y_range=Range1d(0, 1),
             x_axis_location=None, y_axis_location=None,
             min_border_left=0, min_border_right=0, min_border_top=0, min_border_bottom=0)
leg.background_fill_color = "white"
leg.border_fill_color = "white"
leg.outline_line_color = None
leg.xgrid.grid_line_color = None
leg.ygrid.grid_line_color = None

items = []
for name, color in zip(SERIES_NAMES, SERIES_COLORS):
    # one off-range point so the legend has a glyph to draw, nothing shows in the strip
    r = leg.line([-10], [-10], line_color=color, line_width=LINE_W, line_cap="butt")
    items.append(LegendItem(label=name, renderers=[r]))

legend = Legend(items=items, orientation="horizontal", location=(86, 0),
                glyph_width=28, glyph_height=24, label_height=24, label_standoff=10,
                spacing=35, padding=0, margin=0, border_line_color=None,
                background_fill_alpha=0,
                label_text_font=FONT, label_text_font_style="bold",
                label_text_font_size="21px", label_text_color="#333333")
leg.add_layout(legend)

layout = column(p, leg, spacing=0)

with open("out.html", "w") as f:
    f.write(file_html(layout, INLINE))
